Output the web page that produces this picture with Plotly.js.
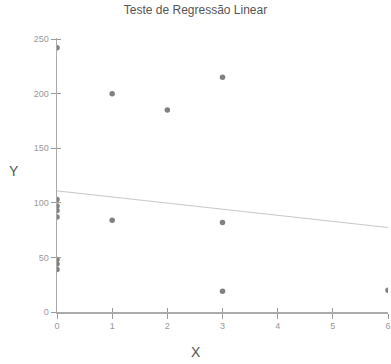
<!DOCTYPE html>
<html><head><meta charset="utf-8">
<script src="https://cdn.plot.ly/plotly-3.0.1.min.js"></script>
<style>html,body{margin:0;padding:0;background:#fff}</style>
</head><body><div id="chart" style="width:391px;height:364px"></div>
<script>
const xValues = [0,0,0,0,0,0,0,0,1,1,2,3,3,3,6];
const yValues = [242,103,97,93,87,48,44,39,200,84,185,215,82,19,20];
const xTicks = [0,1,2,3,4,5,6];
const yTicks = [0,50,100,150,200,250];
const chartTitle = 'Teste de Regressão Linear';

// least squares fit from the data
const n = xValues.length;
const mx = xValues.reduce((a,b)=>a+b,0)/n;
const my = yValues.reduce((a,b)=>a+b,0)/n;
let sxy=0, sxx=0;
for (let i=0;i<n;i++){ sxy += (xValues[i]-mx)*(yValues[i]-my); sxx += (xValues[i]-mx)**2; }
const slope = sxy/sxx, intercept = my - slope*mx;
const lineX = [0,6];
const lineY = lineX.map(x=>intercept+slope*x);

const grey='#999';
const data = [
  {x: lineX, y: lineY, mode:'lines', line:{color:'#c8c8c8', width:1}, hoverinfo:'skip'},
  {x: xValues, y: yValues, mode:'markers', marker:{color:'#808080', size:5.5}},
  {x: [0], y:[0], xaxis:'x2', yaxis:'y2', mode:'markers', marker:{opacity:0}, hoverinfo:'skip'}
];
const axisCommon = {showgrid:false, zeroline:false, showline:true, linecolor:'#aaa', linewidth:1.5,
  ticks:'outside', ticklen:4, tickcolor:'#999', tickwidth:1,
  tickfont:{family:'Liberation Sans, Arial', size:9, color:grey}};
const layout = {
  width:391, height:364, showlegend:false,
  paper_bgcolor:'#fff', plot_bgcolor:'#fff',
  margin:{l:57, r:3, t:38, b:52},
  title:{text:chartTitle, font:{family:'Liberation Sans, Arial', size:12, color:'#555'}, x:0.5, xanchor:'center', y:0.985, yanchor:'top'},
  xaxis: Object.assign({}, axisCommon, {range:[0,6], tickvals:xTicks, ticklen:5}),
  yaxis: Object.assign({}, axisCommon, {range:[0,251], tickvals:yTicks, ticklen:5}),
  xaxis2: {overlaying:'x', range:[0,6], tickvals:xTicks, ticks:'inside', ticklen:4, tickcolor:'#999', showticklabels:false, showgrid:false, zeroline:false, showline:false},
  yaxis2: {overlaying:'y', range:[0,251], tickvals:yTicks, ticks:'inside', ticklen:4, tickcolor:'#999', showticklabels:false, showgrid:false, zeroline:false, showline:false},
  annotations:[
    {text:'Y', xref:'paper', yref:'paper', x:-0.13, y:0.515, showarrow:false, xanchor:'center', yanchor:'middle', font:{family:'Liberation Sans, Arial', size:14, color:'#555'}},
    {text:'X', xref:'paper', yref:'paper', x:0.42, y:-0.146, showarrow:false, xanchor:'center', yanchor:'middle', font:{family:'Liberation Sans, Arial', size:14, color:'#555'}}
  ]
};
Plotly.newPlot('chart', data, layout, {displayModeBar:false, staticPlot:true});
</script></body></html>
